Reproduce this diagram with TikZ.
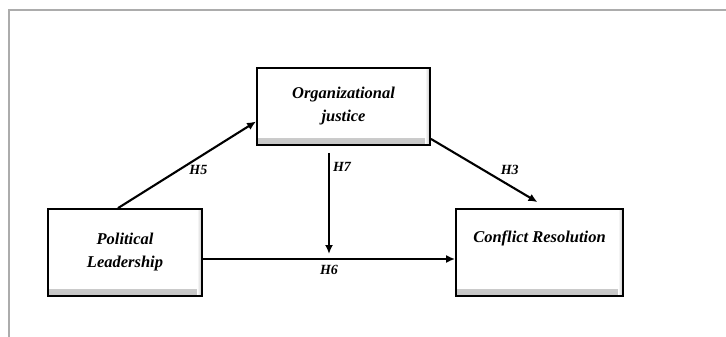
\documentclass[tikz,border=0pt]{standalone}
\usepackage{fontspec}
\setmainfont{Liberation Serif}
\usetikzlibrary{calc,arrows.meta}
\tikzset{
  box/.style={draw, line width=1.8pt, fill=white, align=center,
    font=\fontsize{16.5}{23}\selectfont\bfseries\itshape,
    path picture={
      \shade[top color=white, bottom color=gray!45]
        ([yshift=7pt]path picture bounding box.south west) rectangle (path picture bounding box.south east);
      \shade[left color=white, right color=gray!45]
        ([xshift=-5pt]path picture bounding box.north east) rectangle (path picture bounding box.south east);}},
  arr/.style={line width=2.1pt, -{Latex[length=9pt,width=8pt]}},
  hyp/.style={font=\fontsize{14}{14}\selectfont\bfseries\itshape, inner sep=1pt}
}
\begin{document}
\begin{tikzpicture}[x=1pt,y=-1pt]
                \useasboundingbox (0,0) rectangle (726,337);
                \draw[line width=2pt, gray!65] (9,337) -- (9,10) -- (726,10);
                \node[box, minimum width=154pt, minimum height=87pt] (pl) at (125,252.5) {Political\\Leadership};
                \node[box, minimum width=173pt, minimum height=77pt] (oj) at (343.5,106.5) {Organizational\\justice};
                \node[box, minimum width=167pt, minimum height=87pt] (cr) at (539.5,252.5) {Conflict Resolution\\[8pt]};
                \coordinate (h6s) at ([yshift=-6.5pt]pl.east);
                \coordinate (h7s) at ([xshift=-14.5pt,yshift=-7pt]oj.south);
                \draw[arr] ([xshift=-7pt]pl.north) -- ([yshift=-15pt]oj.west) node[hyp, pos=.51, anchor=north west, inner sep=0pt] {H5};
                \draw[arr] ([yshift=7pt]oj.south east) -- ([xshift=-2pt,yshift=6pt]cr.north) node[hyp, pos=.74, anchor=south, yshift=9pt] {H3};
                \draw[arr] (h6s) -- (h6s -| cr.west) node[hyp, pos=.5, below=4pt] {H6};
                \draw[arr, shorten >=5pt] (h7s) -- (h7s |- h6s) node[hyp, pos=.13, right=2pt] {H7};
                \end{tikzpicture}
\end{document}
